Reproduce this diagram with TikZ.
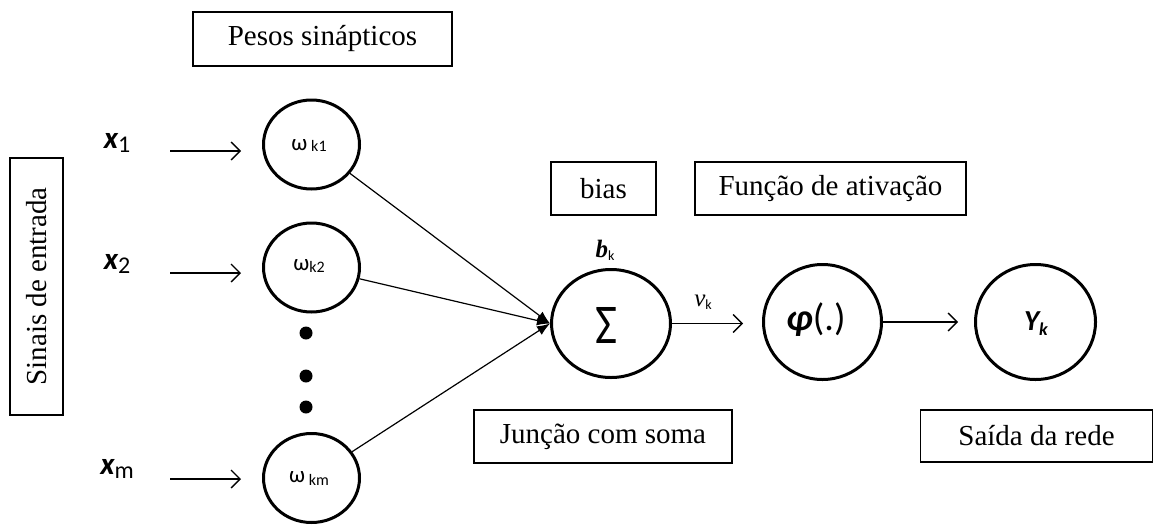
\documentclass[tikz,border=0pt]{standalone}
\usepackage{fontspec}
\usepackage{graphicx}
\usetikzlibrary{shapes.geometric,arrows.meta}
\newfontfamily\tnrfont{Liberation Serif}
\newfontfamily\calfont{Carlito}
\newcommand\fsz[1]{\fontsize{#1}{#1}\selectfont}
\begin{document}
\begin{tikzpicture}[x=1pt,y=-1pt,
  labelbox/.style={draw, line width=1.6pt, inner sep=0pt, font=\tnrfont\fsz{29}},
  neuron/.style={ellipse, draw, line width=3pt, inner sep=0pt},
  inarrow/.style={line width=1.3pt, -{Straight Barb[length=9pt,width=18pt,line width=1.3pt]}},
  synapse/.style={line width=1.2pt, -{Latex[length=13pt,width=10pt]}},
  dot/.style={circle, fill, inner sep=0pt, minimum size=13pt},
  sym/.style={inner sep=0pt, font=\calfont}]
\useasboundingbox (0,0) rectangle (1153,525);

% caption boxes
\node[labelbox, minimum width=259, minimum height=54] (pesos) at (322.5,39) {Pesos sinápticos};
\node[labelbox, rotate=90, minimum width=257, minimum height=53] (sinais) at (36.5,286.5) {Sinais de entrada};
\node[labelbox, minimum width=105, minimum height=53] (bias) at (603.5,188.5) {bias};
\node[labelbox, minimum width=271, minimum height=53] (funcao) at (830.5,188.5) {Função de ativação};
\node[labelbox, minimum width=258, minimum height=53] (juncao) at (603,436.5) {Junção com soma};
\node[labelbox, minimum width=232, minimum height=52] (saida) at (1036.5,436) {Saída da rede};

% input signals
\node[sym] (x1) at (117,143) {\fsz{31}\bfseries\itshape x\raisebox{-4pt}{\fsz{24}\mdseries\upshape 1}};
\node[sym] (x2) at (117,264) {\fsz{31}\bfseries\itshape x\raisebox{-4pt}{\fsz{24}\mdseries\upshape 2}};
\node[sym] (xm) at (117,469) {\fsz{31}\bfseries\itshape x\raisebox{-4pt}{\fsz{24}\mdseries\upshape m}};

% synaptic weights
\node[neuron, minimum width=96, minimum height=89] (w1) at (311.5,144.5) {};
\node[neuron, minimum width=96, minimum height=89] (w2) at (311.5,267.5) {};
\node[neuron, minimum width=96, minimum height=89] (wm) at (311.5,478) {};
\node[sym] at (309,146) {\fsz{23}ω\,\raisebox{-1pt}{\fsz{16}k1}};
\node[sym] at (309,266) {\fsz{23}ω\raisebox{-2pt}{\fsz{16}k2}};
\node[sym] at (309,479) {\fsz{23}ω\,\raisebox{-3pt}{\fsz{16}km}};

\node[dot] (d1) at (306,333) {};
\node[dot] (d2) at (306,376) {};
\node[dot] (d3) at (306,407) {};

% summing junction, activation and output
\node[neuron, minimum width=119, minimum height=108] (sum) at (611,323.5) {};
\node[sym] at (606,325) {\resizebox{22pt}{36pt}{Σ}};
\node[sym] (bk) at (605,250) {\tnrfont\fsz{25}\bfseries\itshape b\raisebox{-3pt}{\calfont\fsz{14}\mdseries\upshape k}};
\node[neuron, minimum width=118, minimum height=115] (phi) at (822.5,322) {};
\node[sym] at (816,320) {\fsz{38}\bfseries\itshape φ\mdseries\upshape(.)};
\node[neuron, minimum width=120, minimum height=115] (yk) at (1035.5,322) {};
\node[sym] at (1036,324) {\fsz{29}\bfseries\itshape Y\raisebox{-5pt}{\fsz{18}k}};
\node[sym] (vk) at (703,302) {\tnrfont\fsz{25}\itshape ν\raisebox{-3pt}{\calfont\fsz{14}\upshape k}};

% connectors
\coordinate (s1) at (170,151);
\coordinate (s2) at (170,273);
\coordinate (sm) at (170,479);
\draw[inarrow, shorten >=21pt] (s1) -- (s1 -| w1.west);
\draw[inarrow, shorten >=21pt] (s2) -- (s2 -| w2.west);
\draw[inarrow, shorten >=21pt] (sm) -- (sm -| wm.west);
\draw[synapse] (w1) -- (sum.west);
\draw[synapse] (w2) -- (sum.west);
\draw[synapse] (wm) -- (sum.west);
\draw[inarrow, shorten >=19pt] (sum.east) -- (sum.east -| phi.west);
\draw[inarrow, shorten >=16pt] (phi.east) -- (phi.east -| yk.west);
\end{tikzpicture}
\end{document}
